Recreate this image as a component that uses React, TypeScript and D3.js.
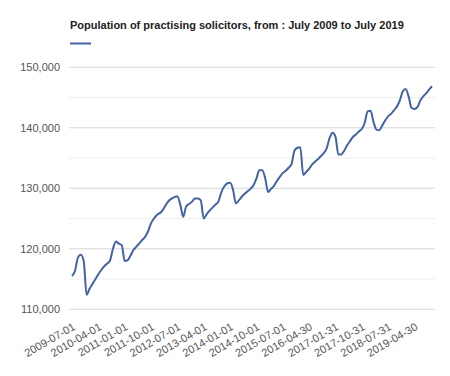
import React from "react";
import * as d3 from "d3";

const TITLE = "Population of practising solicitors, from : July 2009 to July 2019";

const tickLabels = [
  "2009-07-01", "2010-04-01", "2011-01-01", "2011-10-01", "2012-07-01",
  "2013-04-01", "2014-01-01", "2014-10-01", "2015-07-01", "2016-04-30",
  "2017-01-31", "2017-10-31", "2018-07-31", "2019-04-30",
];

const yTicks = [110000, 120000, 130000, 140000, 150000];
const yMinorTicks = [115000, 125000, 135000, 145000];

// monthly values, Jul 2009 onward
const values = [
  115500, 116300, 118500, 119000, 118000, 112400, 113400, 114200, 115000, 115800,
  116500, 117100, 117550, 118100, 120000, 121200, 120850, 120600, 118000, 118100,
  118900, 119800, 120350, 120900, 121450, 122000, 122900, 124200, 125000, 125600,
  125900, 126400, 127200, 127900, 128300, 128550, 128700, 127300, 125300, 127000,
  127400, 127800, 128300, 128300, 128000, 125000, 125700, 126300, 126800, 127300,
  127800, 129300, 130300, 130800, 130900, 129800, 127500, 128000, 128600, 129100,
  129500, 129900, 130500, 131600, 133000, 133000, 131700, 129400, 129900, 130400,
  131200, 131900, 132500, 132900, 133400, 134000, 136200, 136700, 136800, 132200,
  132700, 133200, 133900, 134400, 134800, 135300, 135800, 136600, 138300, 139200,
  138600, 135600, 135600, 136200, 137100, 137800, 138500, 138900, 139400, 139800,
  140800, 142700, 142800, 141000, 139700, 139600, 140400, 141200, 141900, 142300,
  142900, 143500, 144500, 146000, 146400, 145200, 143300, 143100, 143400, 144500,
  145200, 145700, 146300, 146900,
];

const TICK_EVERY = 9;

export default function App() {
  const width = 450;
  const height = 376;
  const plotLeft = 69;
  const plotRight = 435;

  const x = d3
    .scalePoint<number>()
    .domain(values.map((_, i) => i))
    .range([72, 432]);
  const y = d3.scaleLinear().domain([110000, 150000]).range([309.3, 67.3]);

  const line = d3
    .line<number>()
    .x((_, i) => x(i) as number)
    .y((d) => y(d))
    .curve(d3.curveMonotoneX);

  const fmt = d3.format(",");
  const font = "Arial, 'Liberation Sans', sans-serif";

  return (
    <svg
      width={width}
      height={height}
      style={{ position: "absolute", left: 0, top: 0, background: "#fff" }}
      fontFamily={font}
    >
      <text x={70} y={29} fontSize={11} fontWeight="bold" fill="#222">
        {TITLE}
      </text>
      <line x1={70} x2={91} y1={43.5} y2={43.5} stroke="#4363a3" strokeWidth={2} />

      {yMinorTicks.map((t) => (
        <line key={"m" + t} x1={plotLeft} x2={plotRight} y1={y(t)} y2={y(t)} stroke="#efefef" strokeWidth={1} />
      ))}
      {yTicks.map((t) => (
        <g key={t}>
          <line x1={plotLeft} x2={plotRight} y1={y(t)} y2={y(t)} stroke="#d6d6d6" strokeWidth={1} />
          <text x={60} y={y(t)} dy="0.35em" textAnchor="end" fontSize={11} fill="#555">
            {fmt(t)}
          </text>
        </g>
      ))}

      <path d={line(values) || ""} fill="none" stroke="#4363a3" strokeWidth={2} strokeLinejoin="round" />

      {tickLabels.map((lab, k) => {
        const tx = (x(k * TICK_EVERY) as number) + 4;
        const ty = 329;
        return (
          <text
            key={lab}
            x={tx}
            y={ty}
            textAnchor="end"
            fontSize={11}
            fill="#555"
            transform={`rotate(-30, ${tx}, ${ty})`}
          >
            {lab}
          </text>
        );
      })}
    </svg>
  );
}
